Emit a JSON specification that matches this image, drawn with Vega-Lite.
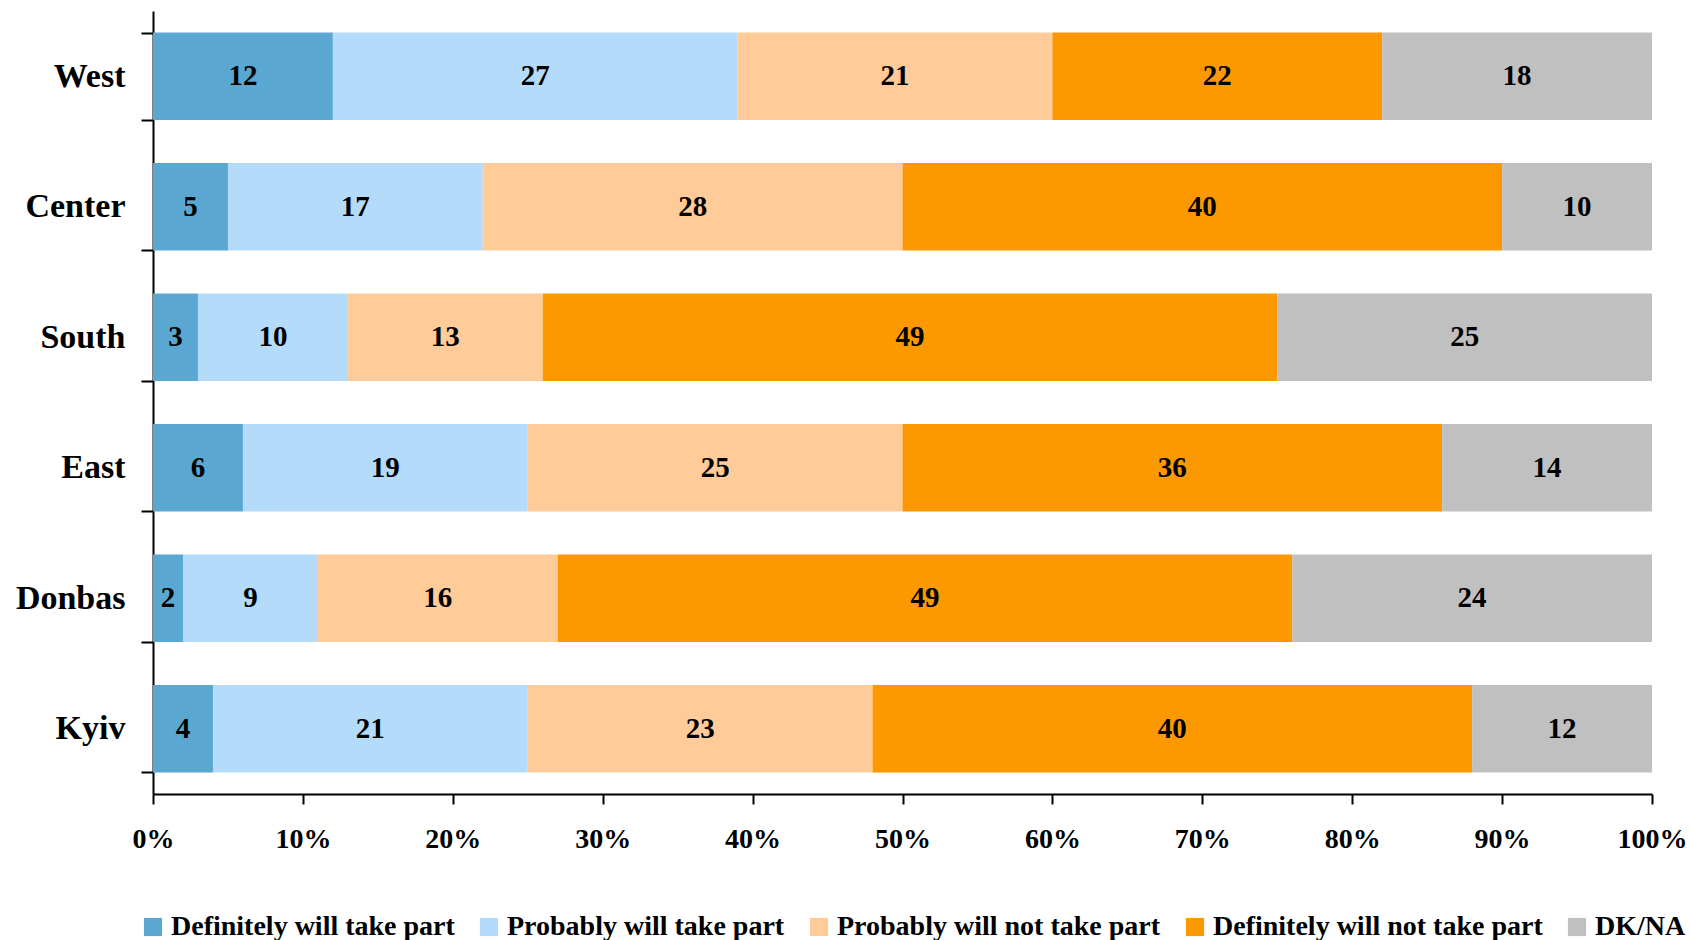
{
  "$schema": "https://vega.github.io/schema/vega-lite/v6.json",
  "autosize": {"type": "none"},
  "width": 1499,
  "height": 783,
  "padding": {"left": 153, "top": 11, "right": 38, "bottom": 146},
  "background": "white",
  "config": {
    "view": {"stroke": null},
    "font": "Liberation Serif",
    "axis": {"grid": false, "domainColor": "black", "tickColor": "black", "domainWidth": 2, "tickWidth": 2, "labelColor": "black", "labelFont": "Liberation Serif", "labelFontWeight": "bold", "title": null}
  },
  "data": {
    "values": [
      {"region": "West", "resp": "Definitely will take part", "o": 1, "v": 12},
      {"region": "West", "resp": "Probably will take part", "o": 2, "v": 27},
      {"region": "West", "resp": "Probably will not take part", "o": 3, "v": 21},
      {"region": "West", "resp": "Definitely will not take part", "o": 4, "v": 22},
      {"region": "West", "resp": "DK/NA", "o": 5, "v": 18},
      {"region": "Center", "resp": "Definitely will take part", "o": 1, "v": 5},
      {"region": "Center", "resp": "Probably will take part", "o": 2, "v": 17},
      {"region": "Center", "resp": "Probably will not take part", "o": 3, "v": 28},
      {"region": "Center", "resp": "Definitely will not take part", "o": 4, "v": 40},
      {"region": "Center", "resp": "DK/NA", "o": 5, "v": 10},
      {"region": "South", "resp": "Definitely will take part", "o": 1, "v": 3},
      {"region": "South", "resp": "Probably will take part", "o": 2, "v": 10},
      {"region": "South", "resp": "Probably will not take part", "o": 3, "v": 13},
      {"region": "South", "resp": "Definitely will not take part", "o": 4, "v": 49},
      {"region": "South", "resp": "DK/NA", "o": 5, "v": 25},
      {"region": "East", "resp": "Definitely will take part", "o": 1, "v": 6},
      {"region": "East", "resp": "Probably will take part", "o": 2, "v": 19},
      {"region": "East", "resp": "Probably will not take part", "o": 3, "v": 25},
      {"region": "East", "resp": "Definitely will not take part", "o": 4, "v": 36},
      {"region": "East", "resp": "DK/NA", "o": 5, "v": 14},
      {"region": "Donbas", "resp": "Definitely will take part", "o": 1, "v": 2},
      {"region": "Donbas", "resp": "Probably will take part", "o": 2, "v": 9},
      {"region": "Donbas", "resp": "Probably will not take part", "o": 3, "v": 16},
      {"region": "Donbas", "resp": "Definitely will not take part", "o": 4, "v": 49},
      {"region": "Donbas", "resp": "DK/NA", "o": 5, "v": 24},
      {"region": "Kyiv", "resp": "Definitely will take part", "o": 1, "v": 4},
      {"region": "Kyiv", "resp": "Probably will take part", "o": 2, "v": 21},
      {"region": "Kyiv", "resp": "Probably will not take part", "o": 3, "v": 23},
      {"region": "Kyiv", "resp": "Definitely will not take part", "o": 4, "v": 40},
      {"region": "Kyiv", "resp": "DK/NA", "o": 5, "v": 12}
    ]
  },
  "encoding": {
    "y": {
      "field": "region", "type": "nominal",
      "sort": ["West", "Center", "South", "East", "Donbas", "Kyiv"],
      "scale": {"paddingInner": 0.33, "paddingOuter": 0.165},
      "axis": {"tickBand": "extent", "tickSize": 12, "labelFontSize": 34, "labelPadding": 16}
    },
    "order": {"field": "o", "type": "quantitative"}
  },
  "layer": [
    {
      "mark": {"type": "bar"},
      "encoding": {
        "x": {
          "field": "v", "type": "quantitative", "stack": "zero",
          "scale": {"domain": [0, 100], "nice": false},
          "axis": {"values": [0, 10, 20, 30, 40, 50, 60, 70, 80, 90, 100], "labelExpr": "datum.value + '%'", "labelFlush": false, "labelOverlap": false, "tickSize": 10, "labelFontSize": 28, "labelPadding": 21}
        },
        "color": {
          "field": "resp", "type": "nominal",
          "scale": {
            "domain": ["Definitely will take part", "Probably will take part", "Probably will not take part", "Definitely will not take part", "DK/NA"],
            "range": ["#5AA8D1", "#B4DBF9", "#FFCB99", "#FC9800", "#C0C0C0"]
          },
          "legend": {
            "title": null, "orient": "none", "direction": "horizontal",
            "legendX": -14, "legendY": 902, "padding": 0,
            "symbolType": "square", "symbolSize": 330, "symbolStrokeWidth": 0,
            "labelFontSize": 28, "labelFont": "Liberation Serif", "labelFontWeight": "bold", "labelColor": "black",
            "labelOffset": 4, "columnPadding": 20, "labelLimit": 500
          }
        }
      }
    },
    {
      "mark": {"type": "text", "font": "Liberation Serif", "fontWeight": "bold", "fontSize": 29, "color": "black", "baseline": "middle", "align": "center"},
      "encoding": {
        "x": {"field": "v", "type": "quantitative", "stack": "zero", "bandPosition": 0.5},
        "text": {"field": "v", "type": "quantitative"}
      }
    }
  ]
}
